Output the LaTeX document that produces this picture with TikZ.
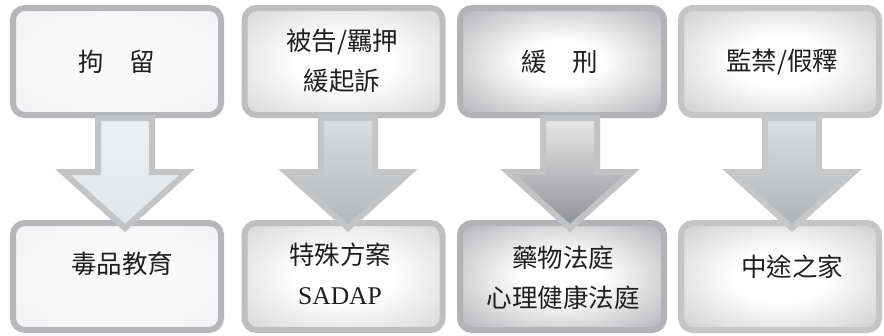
\documentclass[tikz,border=0pt]{standalone}
\usepackage{fontspec}
\setmainfont{Noto Sans CJK TC}
\newfontfamily\latinser{Liberation Serif}
\definecolor{gA}{HTML}{F9F9FA}
\definecolor{oA}{HTML}{EDEEF0}
\definecolor{gB}{HTML}{FFFFFF}
\definecolor{oB}{HTML}{C3C4C6}
\definecolor{oC}{HTML}{98999C}
\definecolor{oD}{HTML}{B6B7B9}
\pgfdeclareradialshading{glowA}{\pgfpoint{0bp}{0bp}}{color(0bp)=(gA); color(15bp)=(gA); color(48bp)=(oA); color(80bp)=(oA)}
\pgfdeclareradialshading{glowB}{\pgfpoint{0bp}{0bp}}{color(0bp)=(gB); color(12bp)=(gB); color(46bp)=(oB); color(80bp)=(oB)}
\pgfdeclareradialshading{glowC}{\pgfpoint{0bp}{0bp}}{color(0bp)=(gB); color(10bp)=(gB); color(44bp)=(oC); color(80bp)=(oC)}
\pgfdeclareradialshading{glowD}{\pgfpoint{0bp}{0bp}}{color(0bp)=(gB); color(12bp)=(gB); color(46bp)=(oD); color(80bp)=(oD)}
\newcommand\blkarrow[2]{%
  \begin{scope}[shift={(#1)}]
    \draw[#2] (-27pt,0pt) -- (27pt,0pt) -- (27pt,-54pt) -- (62pt,-54pt) -- (0pt,-110pt)
      -- (-62pt,-54pt) -- (-27pt,-54pt) -- cycle;
  \end{scope}}
\begin{document}
\begin{tikzpicture}[x=1pt,y=1pt,
  box/.style={rectangle, rounded corners=12pt, line width=6pt, minimum height=107pt, inner sep=0pt},
  boxA/.style={box, draw=HTMLbA, shading=glowA},
  boxB/.style={box, draw=HTMLbB, shading=glowB},
  boxC/.style={box, draw=HTMLbC, shading=glowC},
  boxD/.style={box, draw=HTMLbD, shading=glowD},
  lbl/.style={font=\fontsize{25.5pt}{40pt}\selectfont, align=center, inner sep=0pt, text=black!88},
  arr/.style={line width=6pt, line join=miter},
  arrA/.style={arr, draw=HTMLaA, top color=HTMLfA1, bottom color=HTMLfA2},
  arrB/.style={arr, draw=HTMLaB, top color=HTMLfB1, bottom color=HTMLfB2},
  arrC/.style={arr, draw=HTMLaC, top color=HTMLfC1, bottom color=HTMLfC2},
  arrD/.style={arr, draw=HTMLaD, top color=HTMLfD1, bottom color=HTMLfD2},
]
\definecolor{HTMLbA}{HTML}{B6B7BA}
\definecolor{HTMLbB}{HTML}{BDBEC0}
\definecolor{HTMLbC}{HTML}{B2B3B6}
\definecolor{HTMLbD}{HTML}{C4C5C7}
\definecolor{HTMLaA}{HTML}{C3C4C6}
\definecolor{HTMLfA1}{HTML}{EEEFF1}
\definecolor{HTMLfA2}{HTML}{E4E5E7}
\definecolor{HTMLaB}{HTML}{C4C5C7}
\definecolor{HTMLfB1}{HTML}{DCDDDF}
\definecolor{HTMLfB2}{HTML}{B4B5B7}
\definecolor{HTMLaC}{HTML}{C2C3C5}
\definecolor{HTMLfC1}{HTML}{E8E8E9}
\definecolor{HTMLfC2}{HTML}{8E8F91}
\definecolor{HTMLaD}{HTML}{C6C7C9}
\definecolor{HTMLfD1}{HTML}{DEDFE1}
\definecolor{HTMLfD2}{HTML}{B1B2B4}
\useasboundingbox (0,0) rectangle (884,-335);
\fill[white] (0,0) rectangle (884,-335);
% boxes
\node[boxA, minimum width=208pt] (t1) at (117,-61.5) {};
\node[boxA, minimum width=208pt] (b1) at (117,-276.5) {};
\node[boxB, minimum width=198pt] (t2) at (343.5,-61.5) {};
\node[boxB, minimum width=198pt] (b2) at (343.5,-276.5) {};
\node[boxC, minimum width=204pt] (t3) at (562,-61.5) {};
\node[boxC, minimum width=204pt] (b3) at (562,-276.5) {};
\node[boxD, minimum width=198pt] (t4) at (780,-61.5) {};
\node[boxD, minimum width=198pt] (b4) at (780,-276.5) {};
% arrows
\coordinate (a1) at (t1.south -| 125,0);
\coordinate (a2) at (t2.south -| 348,0);
\coordinate (a3) at (t3.south -| 570,0);
\coordinate (a4) at (t4.south -| 792,0);
\blkarrow{a1}{arrA}
\blkarrow{a2}{arrB}
\blkarrow{a3}{arrC}
\blkarrow{a4}{arrD}
% labels
\node[lbl] (l1) at (117,-62) {拘　留};
\node[lbl] (m1) at (122,-264) {毒品教育};
\node[lbl] (l2) at (342,-61) {被告/羈押\\緩起訴};
\node[lbl] (m2) at (340,-274) {特殊方案\\{\latinser SADAP}};
\node[lbl] (l3) at (560,-62) {緩　刑};
\node[lbl] (m3) at (563,-278) {藥物法庭\\心理健康法庭};
\node[lbl] (l4) at (782,-62) {監禁/假釋};
\node[lbl] (m4) at (792,-267) {中途之家};
\end{tikzpicture}
\end{document}
